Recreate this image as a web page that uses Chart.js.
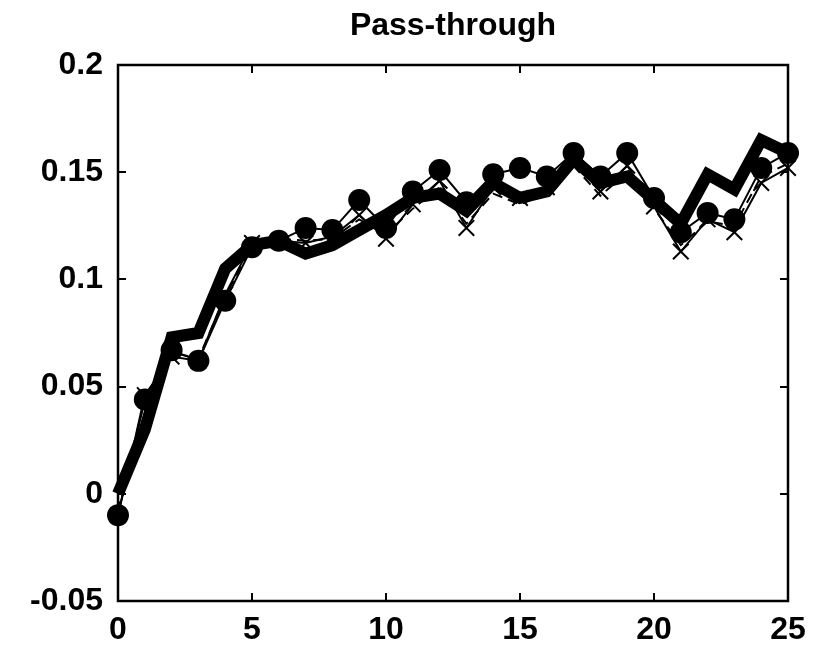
<!DOCTYPE html>
<html>
<head>
<meta charset="utf-8">
<title>Pass-through</title>
<script src="https://cdn.jsdelivr.net/npm/chart.js@4.4.1/dist/chart.umd.min.js"></script>
<style>
  html, body { margin: 0; padding: 0; background: #ffffff; }
  #wrap { width: 817px; height: 650px; }
</style>
</head>
<body>
<div id="wrap"><canvas id="c" width="817" height="650"></canvas></div>
<script>
// Horizons (periods after the shock)
const horizons = [0, 1, 2, 3, 4, 5, 6, 7, 8, 9, 10, 11, 12, 13, 14, 15, 16, 17, 18, 19, 20, 21, 22, 23, 24, 25];

// Pass-through estimates, one array per specification
const baseline = [0, 0.030, 0.073, 0.075, 0.105, 0.116, 0.118, 0.112, 0.116, 0.123, 0.130, 0.138, 0.140, 0.132, 0.145, 0.138, 0.141, 0.156, 0.145, 0.148, 0.137, 0.126, 0.149, 0.142, 0.165, 0.159];
const altCircle = [-0.010, 0.044, 0.067, 0.062, 0.090, 0.115, 0.118, 0.124, 0.123, 0.137, 0.124, 0.141, 0.151, 0.136, 0.149, 0.152, 0.148, 0.159, 0.148, 0.159, 0.138, 0.122, 0.131, 0.128, 0.152, 0.159];
const altCross = [-0.010, 0.046, 0.064, 0.062, 0.093, 0.117, 0.118, 0.117, 0.120, 0.130, 0.119, 0.135, 0.146, 0.124, 0.143, 0.138, 0.143, 0.155, 0.141, 0.153, 0.134, 0.113, 0.128, 0.122, 0.145, 0.152];
const altDashed = [-0.008, 0.044, 0.066, 0.063, 0.092, 0.116, 0.119, 0.118, 0.119, 0.128, 0.121, 0.133, 0.143, 0.126, 0.140, 0.135, 0.140, 0.153, 0.139, 0.150, 0.133, 0.116, 0.127, 0.125, 0.148, 0.154];

// Axis ticks
const xTicks = [0, 5, 10, 15, 20, 25];
const yTicks = [-0.05, 0, 0.05, 0.1, 0.15, 0.2];

const FONT = '"Liberation Sans", Arial, Helvetica, sans-serif';

function pts(values) {
  return horizons.map((h, i) => ({ x: h, y: values[i] }));
}

// Box around the plot area with inward tick marks on all four sides
const boxPlugin = {
  id: 'boxTicks',
  afterDatasetsDraw(chart) {
    const { ctx, chartArea: a, scales } = chart;
    const len = 8;
    ctx.save();
    ctx.strokeStyle = '#000';
    ctx.lineWidth = 2;
    ctx.beginPath();
    xTicks.forEach(v => {
      const px = Math.round(scales.x.getPixelForValue(v));
      ctx.moveTo(px, a.bottom); ctx.lineTo(px, a.bottom - len);
      ctx.moveTo(px, a.top); ctx.lineTo(px, a.top + len);
    });
    yTicks.forEach(v => {
      const py = Math.round(scales.y.getPixelForValue(v));
      ctx.moveTo(a.left, py); ctx.lineTo(a.left + len, py);
      ctx.moveTo(a.right, py); ctx.lineTo(a.right - len, py);
    });
    ctx.stroke();
    ctx.lineWidth = 2.5;
    ctx.strokeRect(a.left, a.top, a.right - a.left, a.bottom - a.top);
    ctx.restore();
  }
};

new Chart(document.getElementById('c'), {
  type: 'line',
  data: {
    datasets: [
      {
        label: 'Dashed',
        data: pts(altDashed),
        borderColor: '#000',
        borderWidth: 2,
        borderDash: [10, 6],
        pointRadius: 0,
        fill: false,
        clip: false
      },
      {
        label: 'Cross',
        data: pts(altCross),
        borderColor: '#000',
        borderWidth: 2,
        pointStyle: 'crossRot',
        pointRadius: 11,
        pointBorderWidth: 2,
        pointBorderColor: '#000',
        fill: false,
        clip: false
      },
      {
        label: 'Baseline',
        data: pts(baseline),
        borderColor: '#000',
        borderWidth: 12,
        borderJoinStyle: 'miter',
        borderCapStyle: 'butt',
        pointRadius: 0,
        fill: false,
        clip: false
      },
      {
        label: 'Circle',
        data: pts(altCircle),
        borderColor: '#000',
        borderWidth: 2,
        pointStyle: 'circle',
        pointRadius: 11,
        pointBackgroundColor: '#000',
        pointBorderColor: '#000',
        pointBorderWidth: 0,
        fill: false,
        clip: false
      }
    ]
  },
  options: {
    responsive: false,
    animation: false,
    events: [],
    layout: { padding: { left: 0, right: 29, top: 0, bottom: 0 } },
    elements: { line: { tension: 0 } },
    plugins: {
      legend: { display: false },
      tooltip: { enabled: false },
      title: {
        display: true,
        text: 'Pass-through',
        color: '#000',
        fullSize: false,
        font: { family: FONT, size: 32, weight: 'bold', lineHeight: 1.2 },
        padding: { top: 7, bottom: 19.6 }
      }
    },
    scales: {
      x: {
        type: 'linear',
        min: 0,
        max: 25,
        afterBuildTicks(scale) { scale.ticks = xTicks.map(v => ({ value: v })); },
        afterFit(scale) { scale.height = 49; },
        grid: { display: false, drawTicks: false },
        border: { display: false },
        ticks: {
          color: '#000',
          padding: 10,
          maxRotation: 0,
          font: { family: FONT, size: 32, weight: 'bold' },
          callback: v => String(v)
        }
      },
      y: {
        type: 'linear',
        min: -0.05,
        max: 0.2,
        afterBuildTicks(scale) { scale.ticks = yTicks.map(v => ({ value: v })); },
        afterFit(scale) { scale.width = 118; },
        grid: { display: false, drawTicks: false },
        border: { display: false },
        ticks: {
          color: '#000',
          padding: 15,
          font: { family: FONT, size: 32, weight: 'bold' },
          callback: v => String(Math.round(v * 100) / 100)
        }
      }
    }
  },
  plugins: [boxPlugin]
});
</script>
</body>
</html>
